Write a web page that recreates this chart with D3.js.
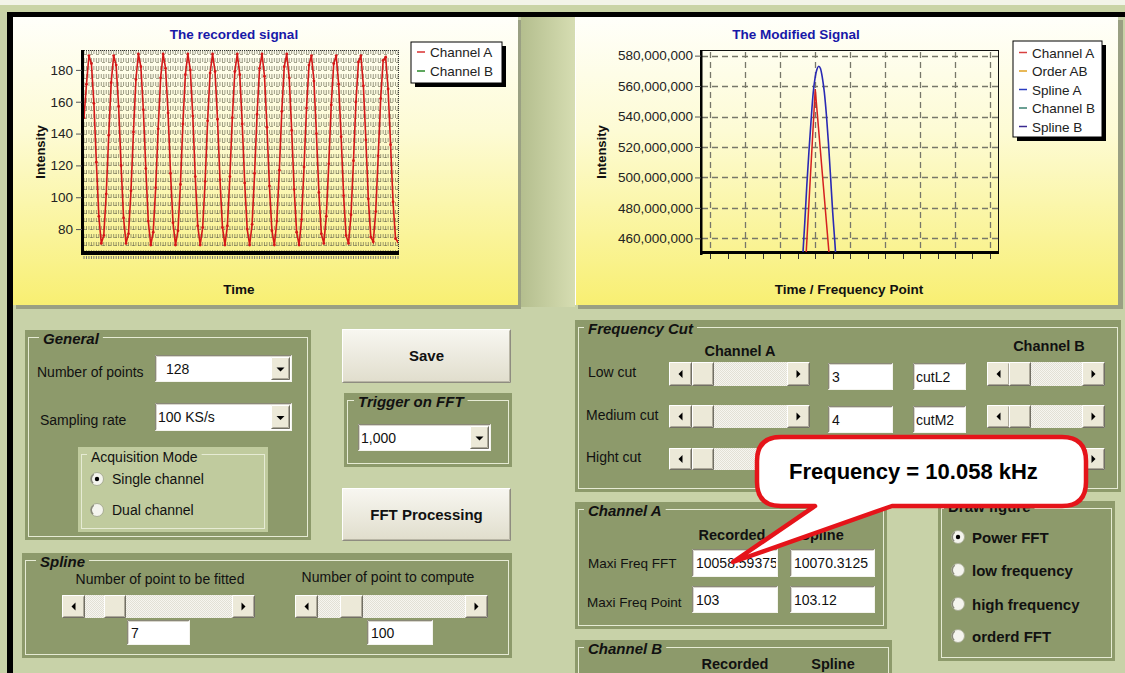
<!DOCTYPE html>
<html><head><meta charset="utf-8">
<script src="https://cdn.jsdelivr.net/npm/d3@7"></script>
<style>
body{margin:0;background:#c8d2a8;overflow:hidden}
svg{display:block}
text{font-family:"Liberation Sans",Arial,sans-serif}
</style></head>
<body><svg id="c" width="1125" height="673"></svg>
<script>
// ---------------- DATA ----------------
// Recorded signal, channel A (128 samples)
const signalA = [150,
 171,189,184,159,122,88,71,76,102,139,
 172,189,183,157,120,87,71,77,104,141,
 174,190,182,155,118,85,70,78,106,143,
 175,190,181,153,115,84,70,79,108,146,
 177,190,180,151,113,82,70,81,110,148,
 178,190,179,149,111,81,70,82,113,150,
 179,190,177,146,109,80,70,83,115,152,
 181,190,176,144,107,79,70,85,117,154,
 182,190,175,142,105,78,70,86,119,156,
 183,189,173,140,103,77,71,88,121,158,
 184,189,171,138,101,76,71,89,123,160,
 185,189,170,136,99,75,72,91,126,162,
 186,188,168,133,97,74,72];
const leftYTicks = [80,100,120,140,160,180];
const leftLegend = ["Channel A","Channel B"];

// Modified signal (power FFT around the peak)
const freqPoints = [100,101,102,103,104,105,106,107,108];
const channelAFFT = [60e6,95e6,142e6,558e6,285e6,110e6,70e6,50e6,40e6];
const splineAX = [102.55,102.65,102.70,102.76,102.82,102.88,102.94,103.00,103.05,103.10,103.15,103.20,103.26,103.32,103.38,103.44,103.50,103.56,103.60,103.68];
const splineAY = [410e6,451e6,470e6,495e6,517e6,537e6,555e6,566e6,571e6,573e6,571.5e6,566e6,556e6,541e6,522e6,500e6,477e6,458e6,444e6,410e6];
const rightYTicks = [460e6,480e6,500e6,520e6,540e6,560e6,580e6];
const rightLegend = ["Channel A","Order AB","Spline A","Channel B","Spline B"];

// ---------------- STYLES ----------------
const leftLegendColors = ["#d83030","#2a8a2a"];
const rightLegendColors = ["#d84040","#e0a020","#2a3cc0","#3a8070","#3a2a90"];
const OLIVE = "#8d9a6b";

const svg = d3.select("#c");
const defs = svg.append("defs");
function lg(id, stops, horiz){
  const g = defs.append("linearGradient").attr("id",id)
    .attr("x1",0).attr("y1",0).attr("x2",horiz?1:0).attr("y2",horiz?0:1);
  stops.forEach(([o,c])=>g.append("stop").attr("offset",o).attr("stop-color",c));
}
lg("panelGrad",[[0,"#fffffa"],[0.4,"#fdfbd4"],[1,"#f8ef72"]]);
lg("btnGrad",[[0,"#f8f7f1"],[1,"#e0ddcc"]]);
lg("colGrad",[[0,"#b4be8e"],[1,"#d6ddb2"]],true);
const pat = defs.append("pattern").attr("id","track").attr("width",2).attr("height",2).attr("patternUnits","userSpaceOnUse");
pat.append("rect").attr("width",2).attr("height",2).attr("fill","#f6f5f0");
pat.append("rect").attr("width",1).attr("height",1).attr("fill","#e2e0d5");
pat.append("rect").attr("x",1).attr("y",1).attr("width",1).attr("height",1).attr("fill","#e2e0d5");

function T(g,x,y,s,o={}){
  return g.append("text").attr("x",x).attr("y",y).text(s)
    .attr("font-size",(o.size||14)+"px")
    .attr("font-weight",o.weight||"normal")
    .attr("font-style",o.style||"normal")
    .attr("text-anchor",o.anchor||"start")
    .attr("fill",o.fill||"#111");
}
function R(g,x,y,w,h,fill){return g.append("rect").attr("x",x).attr("y",y).attr("width",w).attr("height",h).attr("fill",fill);}

// ---------------- BACKGROUND ----------------
R(svg,0,0,1125,673,"#c8d2a8");
R(svg,0,0,1125,5,"#f2f4e8");
R(svg,0,5,1125,7,"#c9d4a6");
R(svg,7,12,1118,5,"#000");
R(svg,7,12,6,661,"#000");
R(svg,521,17,54,290,"url(#colGrad)");
R(svg,16,20,505,289,"#9aa083");
R(svg,13,17,505,288,"url(#panelGrad)");
R(svg,578,20,545,289,"#9aa083");
R(svg,575,17,543,288,"url(#panelGrad)");
svg.append("line").attr("x1",575.5).attr("x2",575.5).attr("y1",17).attr("y2",305).attr("stroke","#fff");

// ---------------- LEFT CHART ----------------
{
const g = svg.append("g");
const x = d3.scaleLinear().domain([0, signalA.length-1]).range([84,398]);
const y = d3.scaleLinear().domain([65.6,192.5]).range([252,50]);
defs.append("clipPath").attr("id","clipL").append("rect").attr("x",84).attr("y",50).attr("width",314).attr("height",202);
g.append("g").selectAll("line").data(signalA.map((d,i)=>i)).join("line")
  .attr("x1",d=>x(d)).attr("x2",d=>x(d)).attr("y1",50).attr("y2",252)
  .attr("stroke","#5e5e48").attr("stroke-width",1).attr("stroke-dasharray","4,4").attr("opacity",0.6);
g.append("g").selectAll("line").data(y.ticks(25)).join("line")
  .attr("x1",84).attr("x2",398).attr("y1",d=>Math.round(y(d))+0.5).attr("y2",d=>Math.round(y(d))+0.5)
  .attr("stroke","#6a6a50").attr("stroke-dasharray","3,3").attr("opacity",0.6);
g.append("line").attr("x1",84).attr("x2",398).attr("y1",50.5).attr("y2",50.5).attr("stroke","#333").attr("stroke-dasharray","1,1");
g.append("line").attr("x1",398.5).attr("x2",398.5).attr("y1",50).attr("y2",252).attr("stroke","#333").attr("stroke-dasharray","1,1");
R(g,81,50,3,205,"#000");
R(g,81,251,318,4,"#000");
g.append("g").selectAll("line").data(signalA.map((d,i)=>i)).join("line")
  .attr("x1",d=>x(d)).attr("x2",d=>x(d)).attr("y1",256).attr("y2",259)
  .attr("stroke","#777");
const ax = g.append("g").attr("transform","translate(82,0)")
  .call(d3.axisLeft(y).tickValues(leftYTicks).tickSize(6).tickPadding(3));
ax.select(".domain").remove();
ax.selectAll("line").attr("stroke","#555");
ax.selectAll("text").attr("font-size","13.5px").attr("fill","#222").attr("font-family","Liberation Sans, Arial");
const gl = g.append("g").attr("clip-path","url(#clipL)");
gl.append("path").datum(signalA)
  .attr("d",d3.line().x((d,i)=>x(i)).y(d=>y(d)))
  .attr("fill","none").attr("stroke","#d41818").attr("stroke-width",1.6);
gl.selectAll("circle").data(signalA).join("circle")
  .attr("cx",(d,i)=>x(i)).attr("cy",d=>y(d)).attr("r",1.4).attr("fill","#d41818");
T(g,234,39,"The recorded signal",{size:13.5,weight:"bold",anchor:"middle",fill:"#1818a8"});
T(g,239,294,"Time",{size:13.5,weight:"bold",anchor:"middle"});
T(g,0,0,"Intensity",{size:13,weight:"bold",anchor:"middle"}).attr("transform","translate(45,152) rotate(-90)");
R(g,415,46,91,41,"#000");
R(g,411,42,91,41,"#fff").attr("stroke","#000");
leftLegend.forEach((s,i)=>{
  const cy = 52+i*19;
  g.append("line").attr("x1",417).attr("x2",425).attr("y1",cy).attr("y2",cy).attr("stroke",leftLegendColors[i]).attr("stroke-width",1.5);
  T(g,430,cy+5,s,{size:13.5,fill:"#222"});
});
}

// ---------------- RIGHT CHART ----------------
{
const g = svg.append("g");
const x = d3.scaleLinear().domain([99.76,108.23]).range([702,998]);
const y = d3.scaleLinear().domain([451e6,583.7e6]).range([252,50]);
defs.append("clipPath").attr("id","clipR").append("rect").attr("x",702).attr("y",50).attr("width",296).attr("height",202);
g.append("g").selectAll("line").data(freqPoints).join("line")
  .attr("x1",d=>Math.round(x(d))+0.5).attr("x2",d=>Math.round(x(d))+0.5).attr("y1",52).attr("y2",252)
  .attr("stroke","#77776a").attr("stroke-width",1.3).attr("stroke-dasharray","6,4");
g.append("g").selectAll("line").data(rightYTicks).join("line")
  .attr("x1",702).attr("x2",998).attr("y1",d=>Math.round(y(d))+0.5).attr("y2",d=>Math.round(y(d))+0.5)
  .attr("stroke","#77776a").attr("stroke-width",1.3).attr("stroke-dasharray","6,4");
g.append("rect").attr("x",701.5).attr("y",50.5).attr("width",297).attr("height",202).attr("fill","none").attr("stroke","#111");
R(g,700,50,2.5,205,"#000");
R(g,700,251,299,3,"#000");
g.append("g").selectAll("line").data(d3.range(freqPoints[0],freqPoints[freqPoints.length-1]+0.01,0.5)).join("line")
  .attr("x1",d=>Math.round(x(d))+0.5).attr("x2",d=>Math.round(x(d))+0.5).attr("y1",254).attr("y2",259)
  .attr("stroke","#333");
const ax = g.append("g").attr("transform","translate(701,0)")
  .call(d3.axisLeft(y).tickValues(rightYTicks).tickSize(6).tickPadding(2).tickFormat(d3.format(",")));
ax.select(".domain").remove();
ax.selectAll("line").attr("stroke","#555");
ax.selectAll("text").attr("font-size","13.5px").attr("fill","#222").attr("font-family","Liberation Sans, Arial");
const gl = g.append("g").attr("clip-path","url(#clipR)");
gl.append("path").datum(freqPoints.map((p,i)=>[p,channelAFFT[i]]))
  .attr("d",d3.line().x(d=>x(d[0])).y(d=>y(d[1])))
  .attr("fill","none").attr("stroke","#d42020").attr("stroke-width",1.5);
gl.append("path").datum(splineAX.map((p,i)=>[p,splineAY[i]]))
  .attr("d",d3.line().curve(d3.curveMonotoneX).x(d=>x(d[0])).y(d=>y(d[1])))
  .attr("fill","none").attr("stroke","#2a2ab4").attr("stroke-width",1.6);
T(g,796,39,"The Modified Signal",{size:13.5,weight:"bold",anchor:"middle",fill:"#1818a8"});
T(g,849,294,"Time / Frequency Point",{size:13.5,weight:"bold",anchor:"middle"});
T(g,0,0,"Intensity",{size:13,weight:"bold",anchor:"middle"}).attr("transform","translate(606,152) rotate(-90)");
R(g,1017,45,89,96,"#000");
R(g,1013,41,89,96,"#fff").attr("stroke","#000");
rightLegend.forEach((s,i)=>{
  const cy = 52.5+i*18.5;
  g.append("line").attr("x1",1019).attr("x2",1027).attr("y1",cy).attr("y2",cy).attr("stroke",rightLegendColors[i]).attr("stroke-width",1.5);
  T(g,1032,cy+5,s,{size:13.5,fill:"#222"});
});
}

// ---------------- CONTROLS ----------------
const ui = svg.append("g");
function raised(g,x,y,w,h,fill){
  R(g,x,y,w,h,fill||"#ece9d8");
  g.append("path").attr("d",`M${x+0.5},${y+h-1}V${y+0.5}H${x+w-1}`).attr("stroke","#fff").attr("fill","none");
  g.append("path").attr("d",`M${x+1.5},${y+h-1.5}H${x+w-1.5}V${y+1.5}`).attr("stroke","#aca899").attr("fill","none");
  g.append("path").attr("d",`M${x+0.5},${y+h-0.5}H${x+w-0.5}V${y+0.5}`).attr("stroke","#716f64").attr("fill","none");
}
function sunken(g,x,y,w,h){
  R(g,x,y,w,h,"#fff");
  g.append("path").attr("d",`M${x+0.5},${y+h-0.5}V${y+0.5}H${x+w-0.5}`).attr("stroke","#8a8878").attr("fill","none");
  g.append("path").attr("d",`M${x+1.5},${y+h-1.5}V${y+1.5}H${x+w-1.5}`).attr("stroke","#d8d6cc").attr("fill","none");
  g.append("path").attr("d",`M${x+0.5},${y+h-0.5}H${x+w-0.5}V${y+0.5}`).attr("stroke","#f4f4ee").attr("fill","none");
}
function tri(g,cx,cy,dir){
  const d = dir==="left"?`M${cx+2},${cy-4}L${cx-2},${cy}L${cx+2},${cy+4}Z`:
            dir==="right"?`M${cx-2},${cy-4}L${cx+2},${cy}L${cx-2},${cy+4}Z`:
            `M${cx-4},${cy-2}L${cx+4},${cy-2}L${cx},${cy+2}Z`;
  g.append("path").attr("d",d).attr("fill","#000");
}
let clipId=0;
function textbox(g,x,y,w,h,s,off){
  sunken(g,x,y,w,h);
  const id="tb"+(clipId++);
  defs.append("clipPath").attr("id",id).append("rect").attr("x",x+2).attr("y",y+2).attr("width",w-4).attr("height",h-4);
  T(g,x+(off||4),y+h/2+5,s,{size:14}).attr("clip-path",`url(#${id})`);
}
function combo(g,x,y,w,h,s,off){
  sunken(g,x,y,w,h);
  T(g,x+(off||4),y+h/2+5,s,{size:14});
  raised(g,x+w-21,y+2,19,h-4);
  tri(g,x+w-11.5,y+h/2+1,"down");
}
function scrollbar(g,x,y,w,h,tx,tw){
  R(g,x,y,w,h,"url(#track)");
  raised(g,x,y,23,h); tri(g,x+11.5,y+h/2,"left");
  raised(g,x+w-23,y,23,h); tri(g,x+w-11.5,y+h/2,"right");
  raised(g,tx,y,tw,h);
}
function button(g,x,y,w,h,s,by){
  R(g,x,y,w,h,"url(#btnGrad)");
  g.append("path").attr("d",`M${x+0.5},${y+h-1}V${y+0.5}H${x+w-1}`).attr("stroke","#fff").attr("fill","none");
  g.append("path").attr("d",`M${x+1.5},${y+h-1.5}H${x+w-1.5}V${y+1.5}`).attr("stroke","#b9b6a6").attr("fill","none");
  g.append("path").attr("d",`M${x+0.5},${y+h-0.5}H${x+w-0.5}V${y+0.5}`).attr("stroke","#8e8c80").attr("fill","none");
  T(g,x+w/2,by,s,{size:15,weight:"bold",anchor:"middle"});
}
function radio(g,cx,cy,on){
  g.append("circle").attr("cx",cx).attr("cy",cy).attr("r",6.5).attr("fill","#f4f4ee").attr("stroke","#a8ad94");
  g.append("path").attr("d",d3.arc()({innerRadius:5,outerRadius:6.5,startAngle:-2.4,endAngle:-0.6})).attr("transform",`translate(${cx},${cy})`).attr("fill","#888a78");
  if(on) g.append("circle").attr("cx",cx).attr("cy",cy).attr("r",2.2).attr("fill","#000");
}
function group(g,x,y,w,h,label,o={}){
  R(g,x,y,w,h,o.fill||OLIVE);
  g.append("rect").attr("x",x+3.5).attr("y",y+7.5).attr("width",w-7).attr("height",h-11)
    .attr("fill","none").attr("stroke","#e6ebd4");
  const t = T(g,x+(o.lx||16),y+(o.ly||14),label,{size:o.size||15,weight:o.weight||"bold",style:o.style||"italic"});
  const tw = t.node().getComputedTextLength();
  R(g,x+(o.lx||16)-4,y+3,tw+8,8,o.fill||OLIVE);
  g.node().appendChild(t.node());
}
function G(){return ui.append("g");}

// General
{const g=G(); group(g,25,330,286,210,"General",{lx:18});}
{const g=G();
 T(g,37,377,"Number of points");
 combo(g,155,355,137,27,"128",11);
 T(g,40,425,"Sampling rate");
 combo(g,155,403,137,28,"100 KS/s",3);
}
{const g=G(); group(g,78,447,190,85,"Acquisition Mode",{fill:"#c0cb9e",weight:"normal",style:"normal",size:14,lx:13,ly:15});}
{const g=G();
 radio(g,97,479,true); T(g,112,484,"Single channel");
 radio(g,97,510,false); T(g,112,515,"Dual channel");
}
{const g=G();
 button(g,342,329,169,54,"Save",361);
 button(g,342,488,169,53,"FFT Processing",520);
}
{const g=G(); group(g,344,393,168,74,"Trigger on FFT",{lx:14});}
{const g=G(); combo(g,358,424,133,27,"1,000",3);}
// Spline
{const g=G(); group(g,22,553,490,105,"Spline",{lx:18});}
{const g=G();
 T(g,160,584,"Number of point to be fitted",{anchor:"middle"});
 T(g,388,582,"Number of point to compute",{anchor:"middle"});
 scrollbar(g,62,595,193,23,104,22);
 scrollbar(g,295,595,193,23,340,23);
 textbox(g,127,620,63,25,"7");
 textbox(g,367,620,66,25,"100");
}
// Frequency cut
{const g=G(); group(g,575,320,546,172,"Frequency Cut",{lx:13});}
{const g=G();
 T(g,740,356,"Channel A",{size:14.5,weight:"bold",anchor:"middle"});
 T(g,1049,351,"Channel B",{size:14.5,weight:"bold",anchor:"middle"});
 T(g,588,377,"Low cut");
 scrollbar(g,669,362,141,24,692,22);
 textbox(g,828,363,65,27,"3");
 textbox(g,913,363,53,27,"cutL2",3);
 scrollbar(g,987,362,118,24,1009,22);
 T(g,586,420,"Medium cut");
 scrollbar(g,669,405,141,23,692,22);
 textbox(g,828,406,65,27,"4");
 textbox(g,913,406,53,27,"cutM2",3);
 scrollbar(g,987,405,118,23,1009,22);
 T(g,586,462,"Hight cut");
 scrollbar(g,669,448,141,22,692,22);
 scrollbar(g,987,448,118,22,1009,22);
}
// Channel A
{const g=G(); group(g,575,502,312,127,"Channel A",{lx:13});}
{const g=G();
 T(g,732,540,"Recorded",{size:14.5,weight:"bold",anchor:"middle"});
 T(g,822,540,"Spline",{size:14.5,weight:"bold",anchor:"middle"});
 T(g,588,568,"Maxi Freq FFT",{size:13.5});
 textbox(g,692,549,86,28,"10058.59375",4);
 textbox(g,790,549,85,28,"10070.3125",4);
 T(g,587,607,"Maxi Freq Point",{size:13.5});
 textbox(g,692,586,86,27,"103",4);
 textbox(g,790,586,85,27,"103.12",4);
}
// Channel B
{const g=G(); group(g,575,640,317,45,"Channel B",{lx:13});}
{const g=G();
 T(g,735,669,"Recorded",{size:14.5,weight:"bold",anchor:"middle"});
 T(g,833,669,"Spline",{size:14.5,weight:"bold",anchor:"middle"});
}
// Draw figure
{const g=G(); group(g,938,501,177,160,"Draw figure",{lx:10,ly:11,style:"normal"});}
{const g=G();
 const opts=["Power FFT","low frequency","high frequency","orderd FFT"];
 const ys=[537,570,604,636];
 opts.forEach((s,i)=>{radio(g,958,ys[i],i===0); T(g,972,ys[i]+6,s,{size:15,weight:"bold"});});
}

// ---------------- CALLOUT ----------------
{
const g = svg.append("g");
const x0=757,y0=437,x1=1086,y1=506,r=24;
const d=`M${x0+r},${y0}H${x1-r}Q${x1},${y0} ${x1},${y0+r}V${y1-r}Q${x1},${y1} ${x1-r},${y1}H892L733,562L815,${y1}H${x0+r}Q${x0},${y1} ${x0},${y1-r}V${y0+r}Q${x0},${y0} ${x0+r},${y0}Z`;
g.append("path").attr("d",d).attr("fill","#fff").attr("stroke","#e5141a").attr("stroke-width",4.5).attr("stroke-linejoin","round");
T(g,789,479,"Frequency = 10.058 kHz",{size:22,weight:"bold",fill:"#000"});
}
</script></body></html>
